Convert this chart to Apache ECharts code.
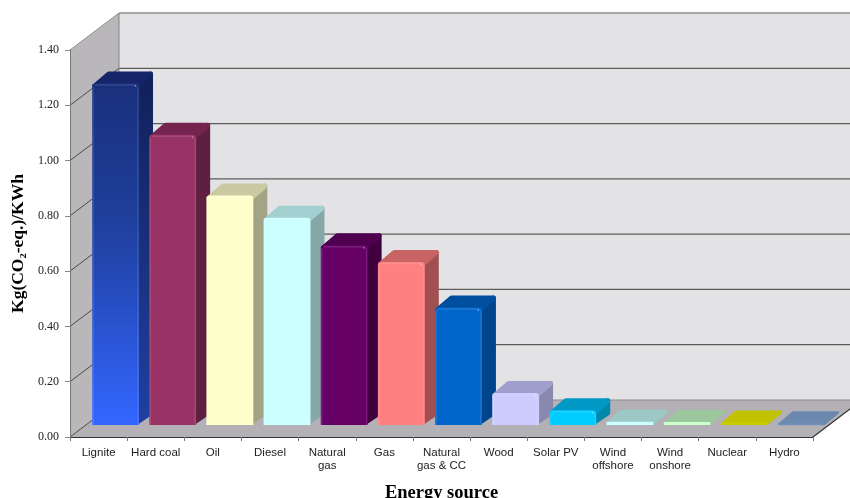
<!DOCTYPE html>
<html>
<head>
<meta charset="utf-8">
<style>html,body{margin:0;padding:0;background:#fff}#chart{width:850px;height:498px}</style>
<script src="https://cdn.jsdelivr.net/npm/echarts@6/dist/echarts.min.js"></script>
</head>
<body>
<div id="chart"></div>
<script>
// Life-cycle emissions per energy source
const categories = ['Lignite', 'Hard coal', 'Oil', 'Diesel', 'Natural\ngas', 'Gas', 'Natural\ngas & CC',
  'Wood', 'Solar PV', 'Wind\noffshore', 'Wind\nonshore', 'Nuclear', 'Hydro'];
const emissions = [1.235, 1.05, 0.83, 0.75, 0.65, 0.59, 0.425, 0.116, 0.053, 0.012, 0.011, 0.009, 0.006];
const yTicks = [0, 0.2, 0.4, 0.6, 0.8, 1.0, 1.2, 1.4];

// Face colours for each bar: front, top, side
const frontColors = ['#3366ff', '#993366', '#ffffcc', '#ccffff', '#660066', '#ff8080', '#0066cc',
  '#ccccff', '#00ccff', '#ccffff', '#ccffcc', '#cccc00', '#6f8fb8'];
const topColors = ['#16256a', '#75234f', '#c9c9a2', '#a2cfcf', '#4f0050', '#c96464', '#004f9e',
  '#a09fcb', '#0099c6', '#9cc8c6', '#9cc69c', '#c2c200', '#6b88ae'];
const sideColors = ['#12205a', '#5f1f40', '#a3a385', '#87a8a8', '#400040', '#a05050', '#00448c',
  '#8a89ad', '#0088aa', '#9cc8c6', '#9cc69c', '#c2c200', '#6b88ae'];

// Projection of the chart box and of the bars inside it
const WALL_DX = 49, WALL_DY = 37;
const BAR_SHIFT_X = 17, BAR_SHIFT_Y = 12;
const BAR_DX = 14, BAR_DY = 12;
const BAR_RATIO = 0.82;

function polygon(points, fill, z2, stroke, width) {
  return {
    type: 'polygon',
    z2: z2 || 0,
    shape: { points },
    style: { fill, stroke: stroke || null, lineWidth: width || 0, lineJoin: 'round' }
  };
}
function line(x1, y1, x2, y2, stroke, width) {
  return { type: 'line', shape: { x1, y1, x2, y2 }, style: { stroke, lineWidth: width || 1 } };
}

// Side wall, back wall, floor and gridlines of the box
function renderBox(params, api) {
  const band = api.size([1, 0])[0];
  const yMax = yTicks[yTicks.length - 1];
  const first = api.coord([0, 0]);
  const lastCat = api.coord([categories.length - 1, 0]);
  const left = first[0] - band / 2, right = lastCat[0] + band / 2;
  const yb = first[1];
  const yt = api.coord([0, yMax])[1];
  const children = [
    polygon([[left + WALL_DX, yt - WALL_DY], [right + WALL_DX, yt - WALL_DY],
      [right + WALL_DX, yb - WALL_DY], [left + WALL_DX, yb - WALL_DY]], '#e3e3e5'),
    polygon([[left, yb], [left, yt], [left + WALL_DX, yt - WALL_DY],
      [left + WALL_DX, yb - WALL_DY]], '#b9b7b9'),
    polygon([[left, yb], [right, yb], [right + WALL_DX, yb - WALL_DY],
      [left + WALL_DX, yb - WALL_DY]], '#b3b1b5')
  ];
  yTicks.forEach(function (t, i) {
    const y = api.coord([0, t])[1];
    const isTop = i === yTicks.length - 1;
    const isBottom = i === 0;
    const c = isTop ? '#8f8f8f' : (isBottom ? '#8a8a8a' : '#5c5c5c');
    children.push(line(left + WALL_DX, y - WALL_DY, right + WALL_DX, y - WALL_DY, c, isTop ? 1.4 : 1.2));
    children.push(line(left, y, left + WALL_DX, y - WALL_DY, isTop ? '#8f8f8f' : '#4a4a4a', 1));
  });
  children.push(line(left + WALL_DX, yt - WALL_DY, left + WALL_DX, yb - WALL_DY, '#858585', 1));
  children.push(line(right, yb, right + WALL_DX, yb - WALL_DY, '#333', 1.2));
  return { type: 'group', children };
}

// One bevelled box: side and top first, the front face over them
function renderBar(params, api) {
  const i = api.value(0), v = api.value(1);
  const base = api.coord([i, 0]);
  const top = api.coord([i, v]);
  const w = api.size([1, 0])[0] * BAR_RATIO;
  const x0 = base[0] + BAR_SHIFT_X - w / 2, x1 = x0 + w;
  const yb = base[1] - BAR_SHIFT_Y, yt = top[1] - BAR_SHIFT_Y;
  const isFirst = i === 0;
  const flat = yb - yt < 6;
  const r = flat ? 1 : 2.5;

  const front = isFirst
    ? { type: 'linear', x: 0, y: 0, x2: 0, y2: 1, colorStops: [{ offset: 0, color: '#19307c' }, { offset: 0.4, color: '#1f3f9c' }, { offset: 1, color: frontColors[0] }] }
    : frontColors[i];
  const side = isFirst
    ? { type: 'linear', x: 0, y: 0, x2: 0, y2: 1, colorStops: [{ offset: 0, color: '#12205a' }, { offset: 1, color: '#2040a0' }] }
    : sideColors[i];

  const children = [
    polygon([[x1 - r, yb - r], [x1 + BAR_DX - r, yb - BAR_DY], [x1 + BAR_DX - r, yt - BAR_DY + r], [x1 - r, yt + r]],
      side, 1, side, r * 2),
    polygon([[x0 + r, yt + r], [x0 + BAR_DX + r, yt - BAR_DY + r], [x1 + BAR_DX - r, yt - BAR_DY + r], [x1 - r, yt + r]],
      topColors[i], 2, topColors[i], r * 2),
    {
      type: 'rect', z2: 3,
      shape: { x: x0, y: yt, width: w, height: yb - yt, r: flat ? [1, 1, 0, 0] : [3, 3, 0, 0] },
      style: { fill: front }
    }
  ];
  if (!flat) {
    // Soft highlights along the bevelled edges of the front face
    children.push({ type: 'line', z2: 4, shape: { x1: x0 + 1, y1: yt + 3, x2: x0 + 1, y2: yb }, style: { stroke: 'rgba(255,255,255,0.12)', lineWidth: 1.5 } });
    children.push({ type: 'line', z2: 4, shape: { x1: x1 - 1, y1: yt + 3, x2: x1 - 1, y2: yb }, style: { stroke: 'rgba(255,255,255,0.1)', lineWidth: 1.5 } });
    children.push({ type: 'line', z2: 4, shape: { x1: x0 + 3, y1: yt + 1.5, x2: x1 - 3, y2: yt + 1.5 }, style: { stroke: 'rgba(255,255,255,0.12)', lineWidth: 1.5 } });
    children.push({ type: 'circle', z2: 4, shape: { cx: x1 - 3.5, cy: yt + 2.5, r: 1 }, style: { fill: 'rgba(255,255,255,0.35)' } });
  }
  return { type: 'group', children };
}

const chart = echarts.init(document.getElementById('chart'), null, { renderer: 'canvas' });
chart.setOption({
  animation: false,
  backgroundColor: '#ffffff',
  grid: { left: 70, right: 37, top: 50, bottom: 61, outerBoundsMode: 'none' },
  xAxis: {
    type: 'category',
    data: categories,
    z: 5,
    boundaryGap: true,
    name: 'Energy source',
    nameLocation: 'middle',
    nameGap: 47,
    nameTextStyle: { fontFamily: 'Liberation Serif', fontWeight: 'bold', fontSize: 18.5, color: '#000' },
    axisLine: { lineStyle: { color: '#333', width: 1.2 } },
    axisTick: { show: true, length: 4, alignWithLabel: false, lineStyle: { color: '#777' } },
    axisLabel: {
      interval: 0, margin: 9, lineHeight: 13.5,
      fontFamily: 'Liberation Sans', fontSize: 11.5, color: '#222'
    }
  },
  yAxis: {
    type: 'value',
    min: 0, max: 1.4, interval: 0.2,
    z: 5,
    name: 'Kg(CO₂-eq.)/KWh',
    nameLocation: 'middle',
    nameGap: 41,
    nameTextStyle: { fontFamily: 'Liberation Serif', fontWeight: 'bold', fontSize: 17.5, color: '#000' },
    splitLine: { show: false },
    axisLine: { show: true, lineStyle: { color: '#777', width: 1 } },
    axisTick: { show: true, length: 5, lineStyle: { color: '#888' } },
    axisLabel: {
      margin: 11,
      padding: [4, 0, 0, 0],
      fontFamily: 'Liberation Serif', fontSize: 12, color: '#222',
      formatter: function (v) { return v.toFixed(2); }
    }
  },
  series: [
    { type: 'custom', z: 1, silent: true, renderItem: renderBox, data: [[0, 0]], encode: { x: 0, y: 1 } },
    {
      type: 'custom', z: 2, renderItem: renderBar,
      data: emissions.map(function (v, i) { return [i, v]; }),
      encode: { x: 0, y: 1 }
    }
  ]
});
</script>
</body>
</html>
